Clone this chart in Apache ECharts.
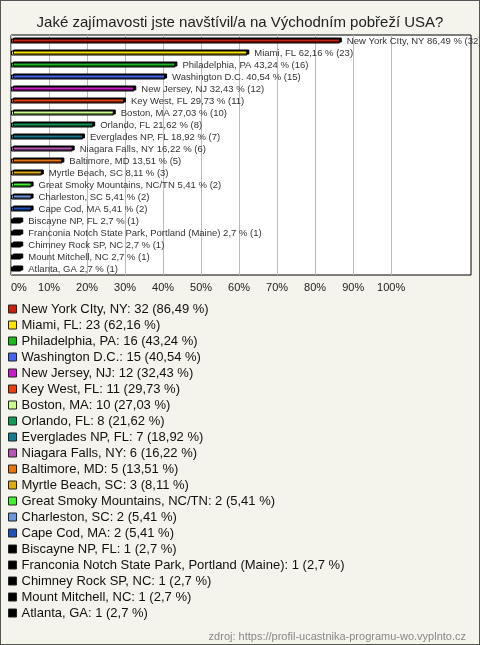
<!DOCTYPE html>
<html>
<head>
<meta charset="utf-8">
<script src="https://cdn.jsdelivr.net/npm/echarts@6/dist/echarts.min.js"></script>
<style>
html,body{margin:0;padding:0;background:#F4F3EC;}
#c{width:480px;height:645px;box-sizing:border-box;border:1px solid #555;}
</style>
</head>
<body>
<div id="c"></div>
<script>
const categories = ["New York CIty, NY","Miami, FL","Philadelphia, PA","Washington D.C.","New Jersey, NJ","Key West, FL","Boston, MA","Orlando, FL","Everglades NP, FL","Niagara Falls, NY","Baltimore, MD","Myrtle Beach, SC","Great Smoky Mountains, NC/TN","Charleston, SC","Cape Cod, MA","Biscayne NP, FL","Franconia Notch State Park, Portland (Maine)","Chimney Rock SP, NC","Mount Mitchell, NC","Atlanta, GA"];
const counts = [32,23,16,15,12,11,10,8,7,6,5,3,2,2,2,1,1,1,1,1];
const percents = [86.49,62.16,43.24,40.54,32.43,29.73,27.03,21.62,18.92,16.22,13.51,8.11,5.41,5.41,5.41,2.7,2.7,2.7,2.7,2.7];
const colors = ["#C8200E","#FFE400","#1DB81D","#4466EE","#C81EC8","#E8400E","#CCFF88","#119955","#167A90","#B855B8","#E87410","#DDAA11","#44EE33","#6A96DC","#2050B8","#000000","#000000","#000000","#000000","#000000"];
const tickLabels = ["0%","10%","20%","30%","40%","50%","60%","70%","80%","90%","100%"];
const titleText = "Jaké zajímavosti jste navštívil/a na Východním pobřeží USA?";
const sourceText = "zdroj: https://profil-ucastnika-programu-wo.vyplnto.cz";

const FONT = "'Liberation Sans', Arial, sans-serif";
const fmt = v => String(v).replace('.', ',');

const legendSeries = categories.map((c, i) => ({
  name: c + ': ' + counts[i] + ' (' + fmt(percents[i]) + ' %)',
  type: 'line',
  data: [],
  itemStyle: { color: colors[i] },
  lineStyle: { color: colors[i] }
}));

const splitColors = tickLabels.map(() => '#BBBBBB').concat(['rgba(0,0,0,0)','rgba(0,0,0,0)','rgba(0,0,0,0)']);

const chart = echarts.init(document.getElementById('c'), null, { renderer: 'canvas' });
chart.setOption({
  backgroundColor: '#F4F3EC',
  animation: false,
  title: [
    { text: titleText, left: 'center', top: 9, textStyle: { fontFamily: FONT, fontSize: 15, fontWeight: 'normal', color: '#222' } },
    { text: sourceText, right: 8, top: 625, textStyle: { fontFamily: FONT, fontSize: 11, fontWeight: 'normal', color: '#888' } }
  ],
  grid: { left: 10, top: 34, width: 460, height: 240, show: true, backgroundColor: '#FFFFFF', borderColor: '#000', borderWidth: 1, containLabel: false },
  xAxis: {
    type: 'value', min: 0, max: 121, interval: 10,
    axisLine: { show: false }, axisTick: { show: false },
    splitLine: { show: true, lineStyle: { color: splitColors, width: 1 } },
    axisLabel: {
      fontFamily: FONT, fontSize: 11, color: '#222', margin: 7,
      alignMinLabel: 'left',
      formatter: v => (v <= 100 ? tickLabels[Math.round(v / 10)] : '')
    }
  },
  yAxis: {
    type: 'category', data: categories, inverse: true,
    axisLine: { show: false }, axisTick: { show: false }, axisLabel: { show: false }, splitLine: { show: false }
  },
  legend: {
    orient: 'vertical', left: 7, top: 300, padding: 0, itemWidth: 8, itemHeight: 8, itemGap: 0, icon: 'rect',
    selectedMode: false,
    itemStyle: { borderColor: '#222', borderWidth: 1 },
    textStyle: { fontFamily: FONT, fontSize: 13, color: '#111', lineHeight: 16 },
    data: legendSeries.map(s => s.name)
  },
  series: [{
    type: 'bar',
    barWidth: 5,
    data: percents.map((p, i) => ({ value: p, itemStyle: { color: colors[i] } })),
    itemStyle: { borderColor: '#000', borderWidth: 1, shadowColor: '#000', shadowOffsetX: 2, shadowOffsetY: -1, shadowBlur: 0 },
    label: {
      show: true, position: 'right', distance: 7,
      fontFamily: FONT, fontSize: 9.5, color: '#333',
      formatter: p => categories[p.dataIndex] + ' ' + fmt(percents[p.dataIndex]) + ' % (' + counts[p.dataIndex] + ')'
    }
  }].concat(legendSeries)
});
</script>
</body>
</html>
